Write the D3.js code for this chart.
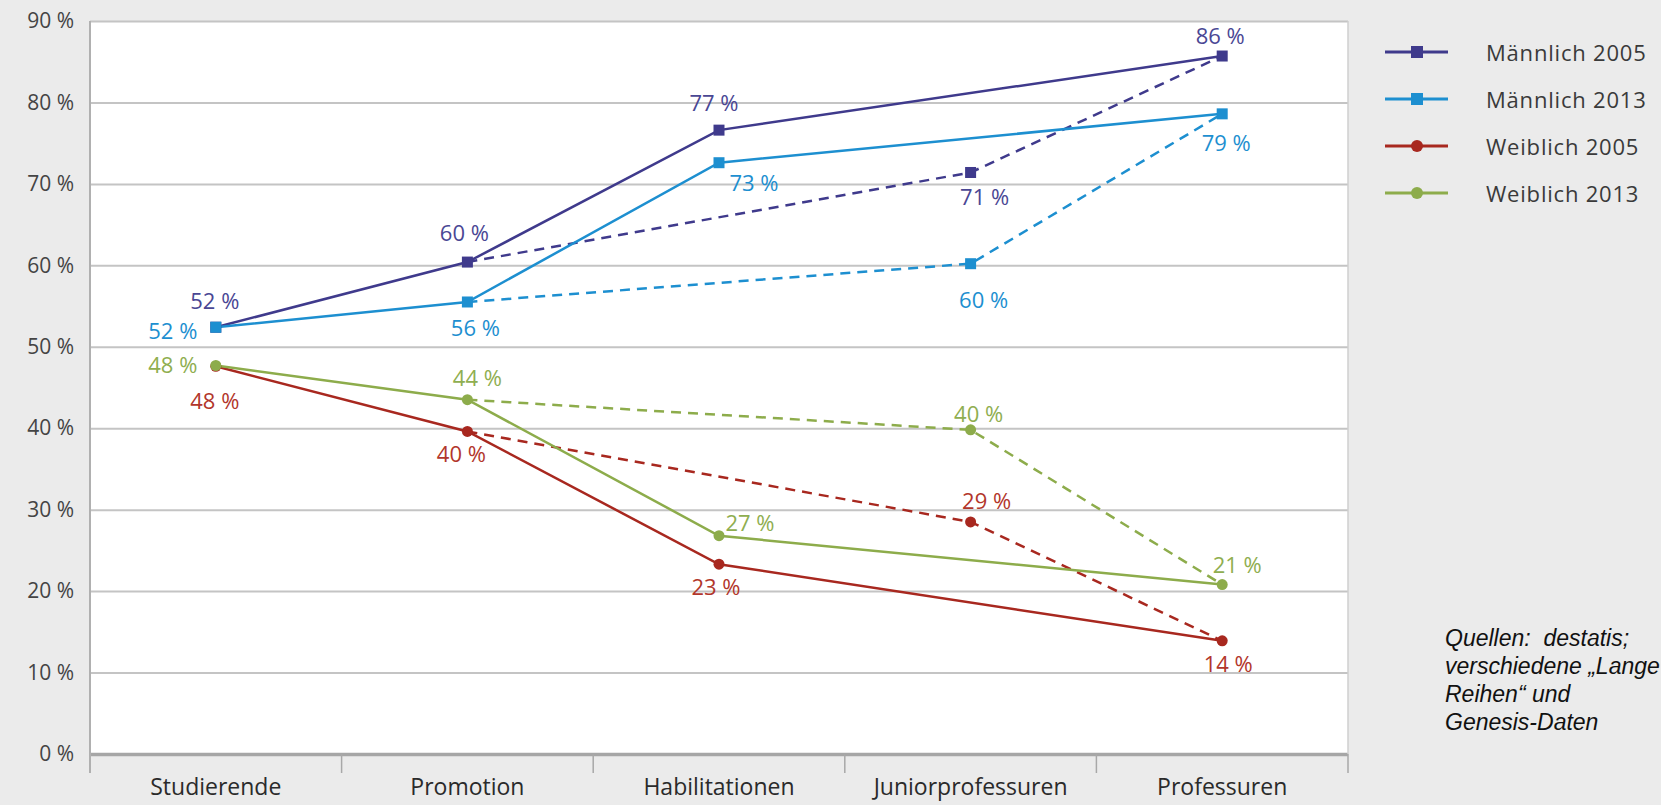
<!DOCTYPE html>
<html lang="de">
<head>
<meta charset="utf-8">
<script src="https://cdn.jsdelivr.net/npm/d3@7"></script>
<style>
  html, body { margin: 0; padding: 0; background: #ebebeb; overflow: hidden; }
  svg { display: block; }
  .cat { font-family: "Liberation Sans Narrow", "Arial Narrow", "Open Sans", sans-serif; }
</style>
</head>
<body>
<svg id="chart" width="1661" height="805"></svg>
<script>
// Stufen der akademischen Laufbahn
const categories = ["Studierende", "Promotion", "Habilitationen", "Juniorprofessuren", "Professuren"];
// Stufen der durchgezogenen Linien (ohne Juniorprofessuren)
const solidSteps = ["Studierende", "Promotion", "Habilitationen", "Professuren"];
// Stufen der gestrichelten Linien (über Juniorprofessuren)
const dashedSteps = ["Promotion", "Juniorprofessuren", "Professuren"];

// Anteile in Prozent je Stufe (Reihenfolge wie categories)
const maennlich2005 = [52.4, 60.4, 76.6, 71.4, 85.7];
const maennlich2013 = [52.4, 55.5, 72.6, 60.2, 78.6];
const weiblich2005  = [47.6, 39.6, 23.3, 28.5, 13.9];
const weiblich2013  = [47.7, 43.5, 26.8, 39.8, 20.8];

const seriesNames = ["Männlich 2005", "Männlich 2013", "Weiblich 2005", "Weiblich 2013"];
const yTicks = [0, 10, 20, 30, 40, 50, 60, 70, 80, 90];

const sourceLines = ["Quellen:  destatis;", "verschiedene „Lange", "Reihen“ und", "Genesis-Daten"];

// Darstellung
const colors = ["#3f3a8c", "#1d8fd0", "#a8281f", "#8dac4b"];
const labelColors = ["#4a4794", "#1d8fd0", "#b2362b", "#8fae50"];
const shapes = ["square", "square", "circle", "circle"];
// Versatz der Wertebeschriftungen relativ zum Punkt [dx, dy]
const labelOffsets = [
  [[-1, -27], [-3, -30], [-5, -28], [14, 24], [-2, -21]],
  [[-43, 3], [8, 25], [35, 19], [13, 35], [4, 28]],
  [[-1, 34], [-6, 22], [-3, 22], [16, -22], [6, 22]],
  [[-43, -2], [10, -23], [31, -14], [8, -17], [15, -21]]
];

const data = [maennlich2005, maennlich2013, weiblich2005, weiblich2013];

const svg = d3.select("#chart");
const plot = { left: 90, right: 1348, top: 21, bottom: 754 };

const x = d3.scaleBand().domain(categories).range([plot.left, plot.right]).padding(0);
const cx = c => x(c) + x.bandwidth() / 2;
const y = d3.scaleLinear().domain([0, 90]).range([plot.bottom, plot.top]);

// Zeichenfläche
svg.append("rect")
  .attr("x", plot.left).attr("y", plot.top)
  .attr("width", plot.right - plot.left).attr("height", plot.bottom - plot.top)
  .attr("fill", "#ffffff");

// y-Achse mit Gitterlinien
const yAxis = svg.append("g")
  .attr("transform", `translate(${plot.left},0)`)
  .call(d3.axisLeft(y).tickValues(yTicks).tickSize(-(plot.right - plot.left)).tickPadding(16)
    .tickFormat(d => d + " %"));
yAxis.select(".domain").remove();
yAxis.selectAll(".tick line")
  .attr("stroke", d => d === 0 ? "#a6a6a6" : "#c4c4c4")
  .attr("stroke-width", d => d === 0 ? 3.5 : 2);
yAxis.selectAll(".tick text")
  .attr("fill", "#444")
  .style("font-family", "'Open Sans', sans-serif")
  .style("font-size", "21px");

// linke und rechte Begrenzung
svg.append("line")
  .attr("x1", plot.left).attr("x2", plot.left)
  .attr("y1", plot.top).attr("y2", plot.bottom + 19)
  .attr("stroke", "#b0b0b0").attr("stroke-width", 2);
svg.append("line")
  .attr("x1", plot.right).attr("x2", plot.right)
  .attr("y1", plot.top).attr("y2", plot.bottom)
  .attr("stroke", "#cfcfcf").attr("stroke-width", 1.5);

// x-Achse: Trennstriche zwischen den Kategorien
const bounds = categories.map(c => x(c)).concat([plot.right]).slice(1);
svg.append("g").selectAll("line").data(bounds).join("line")
  .attr("x1", d => d).attr("x2", d => d)
  .attr("y1", plot.bottom).attr("y2", plot.bottom + 19)
  .attr("stroke", "#a8a8a8").attr("stroke-width", 1.5);

const xAxis = svg.append("g")
  .attr("transform", `translate(0,${plot.bottom})`)
  .call(d3.axisBottom(x).tickSize(0).tickPadding(25));
xAxis.select(".domain").remove();
xAxis.selectAll(".tick text")
  .attr("class", "cat")
  .attr("fill", "#2a2a2a")
  .style("font-size", "23px");

// Linien
const line = d3.line().x(d => cx(d.cat)).y(d => y(d.v));
const pointsFor = (vals, steps) => steps.map(c => ({ cat: c, v: vals[categories.indexOf(c)] }));

const linesG = svg.append("g");
data.forEach((vals, i) => {
  linesG.append("path")
    .datum(pointsFor(vals, dashedSteps))
    .attr("d", line)
    .attr("fill", "none")
    .attr("stroke", colors[i])
    .attr("stroke-width", 2.5)
    .attr("stroke-dasharray", "10,7");
});
data.forEach((vals, i) => {
  linesG.append("path")
    .datum(pointsFor(vals, solidSteps))
    .attr("d", line)
    .attr("fill", "none")
    .attr("stroke", colors[i])
    .attr("stroke-width", 2.5);
});

// Punkte
const marksG = svg.append("g");
data.forEach((vals, i) => {
  const pts = categories.map((c, k) => ({ cat: c, v: vals[k] }));
  if (shapes[i] === "square") {
    marksG.selectAll(null).data(pts).join("rect")
      .attr("x", d => cx(d.cat) - 5.5).attr("y", d => y(d.v) - 5.5)
      .attr("width", 11).attr("height", 11)
      .attr("fill", colors[i]);
  } else {
    marksG.selectAll(null).data(pts).join("circle")
      .attr("cx", d => cx(d.cat)).attr("cy", d => y(d.v))
      .attr("r", 5.5)
      .attr("fill", colors[i]);
  }
});

// Wertebeschriftungen
const labelsG = svg.append("g")
  .style("font-family", "'Open Sans', sans-serif")
  .style("font-size", "22px");
data.forEach((vals, i) => {
  labelsG.selectAll(null).data(categories.map((c, k) => ({ cat: c, v: vals[k], k })))
    .join("text")
    .attr("x", d => cx(d.cat) + labelOffsets[i][d.k][0])
    .attr("y", d => y(d.v) + labelOffsets[i][d.k][1])
    .attr("text-anchor", "middle")
    .attr("dominant-baseline", "central")
    .attr("fill", labelColors[i])
    .text(d => Math.round(d.v) + " %");
});

// Legende
const legend = svg.append("g").attr("transform", "translate(1385,52)");
seriesNames.forEach((name, i) => {
  const g = legend.append("g").attr("transform", `translate(0,${i * 47})`);
  g.append("line").attr("x1", 0).attr("x2", 63).attr("y1", 0).attr("y2", 0)
    .attr("stroke", colors[i]).attr("stroke-width", 3);
  if (shapes[i] === "square") {
    g.append("rect").attr("x", 26).attr("y", -6).attr("width", 12).attr("height", 12).attr("fill", colors[i]);
  } else {
    g.append("circle").attr("cx", 32).attr("cy", 0).attr("r", 6).attr("fill", colors[i]);
  }
  g.append("text").attr("x", 101).attr("y", 0)
    .attr("dominant-baseline", "central")
    .attr("fill", "#3a3a3a")
    .style("font-family", "'Open Sans', sans-serif")
    .style("font-size", "22px")
    .style("letter-spacing", "0.8px")
    .text(name);
});

// Quellenangabe
const src = svg.append("text")
  .attr("x", 1445).attr("y", 646)
  .attr("fill", "#111")
  .style("font-family", "'Liberation Sans', Arial, sans-serif")
  .style("font-style", "italic")
  .style("font-size", "23px")
  .style("white-space", "pre");
sourceLines.forEach((t, i) => {
  src.append("tspan").attr("x", 1445).attr("dy", i === 0 ? 0 : 28).text(t);
});
</script>
</body>
</html>
